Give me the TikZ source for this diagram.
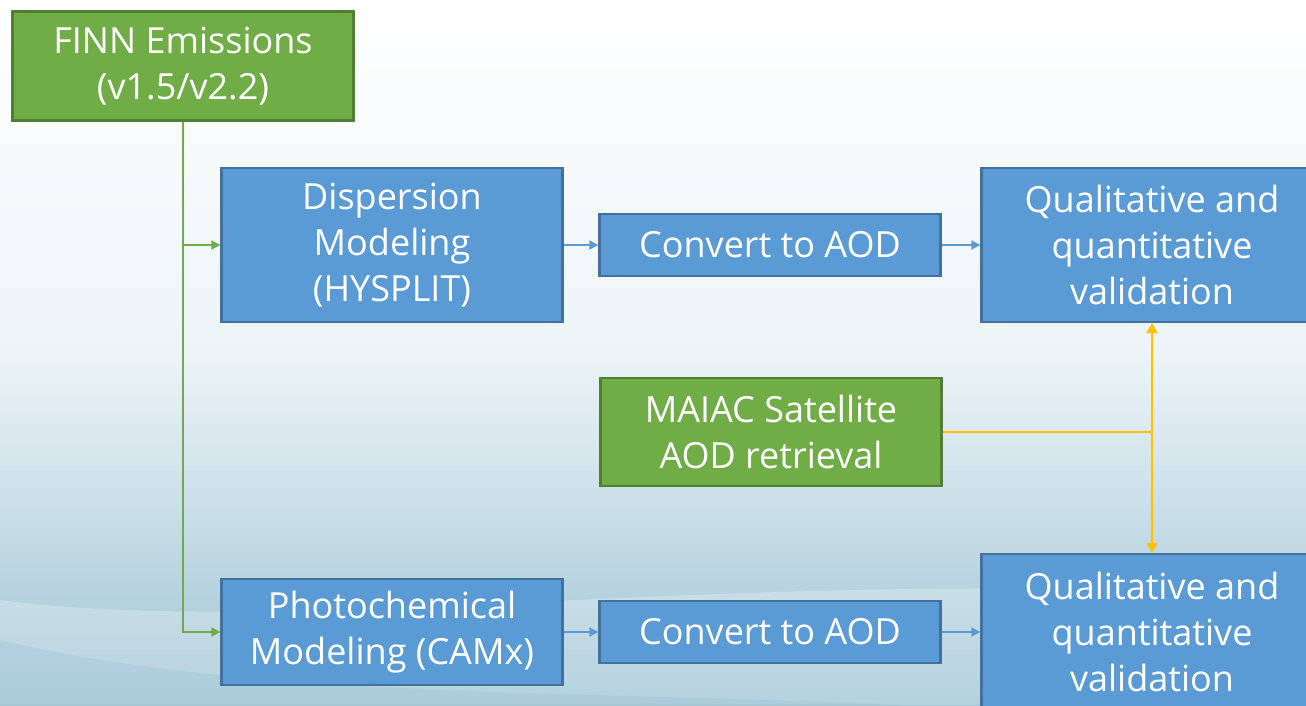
\documentclass[tikz,border=0pt]{standalone}
\usepackage{fontspec}
\setmainfont{Open Sans}
\usepackage{tikz}
\usetikzlibrary{arrows.meta,positioning}
\definecolor{BoxBlue}{HTML}{5B9BD5}
\definecolor{EdgeBlue}{HTML}{41719C}
\definecolor{BoxGreen}{HTML}{70AD47}
\definecolor{EdgeGreen}{HTML}{507E32}
\definecolor{Amber}{HTML}{FFC000}
\definecolor{SkyLow}{HTML}{9DC3D4}
\definecolor{SkyMid}{HTML}{EDF4F7}

\begin{document}
\begin{tikzpicture}[x=1pt,y=-1pt,
  stage/.style={rectangle,draw=EdgeBlue,fill=BoxBlue,line width=2.2pt,text=white,align=center,
    minimum width=341pt,font=\fontsize{36}{46}\selectfont},
  source/.style={stage,draw=EdgeGreen,fill=BoxGreen},
  feed/.style={draw=BoxGreen,line width=1.8pt,-{Triangle[length=9pt,width=9pt]}},
  flow/.style={draw=BoxBlue,line width=1.8pt,-{Triangle[length=9pt,width=9pt]}},
  sat/.style={draw=Amber,line width=2pt}
]
\clip (0,0) rectangle (1306,705);
% backdrop
\shade[top color=white,bottom color=SkyLow,middle color=SkyMid] (0,0) rectangle (1306,705);
\fill[white,opacity=0.25] (0,600) .. controls (300,640) and (800,560) .. (1306,600) -- (1306,705) -- (0,705) -- cycle;
\fill[SkyLow,opacity=0.35] (0,640) .. controls (250,700) and (600,690) .. (900,705) -- (0,705) -- cycle;

\node[source,minimum height=109pt] (finn) at (183,66) {FINN Emissions\\(v1.5/v2.2)};
\node[stage,minimum height=154pt] (disp) at (392,245) {Dispersion\\Modeling\\(HYSPLIT)};
\node[stage,minimum height=62pt] (aod1) at (770,245) {Convert to AOD};
\node[stage,minimum height=154pt] (val1) at (1152,245) {Qualitative and\\quantitative\\validation};
\node[source,minimum height=108pt] (maiac) at (771,432) {MAIAC Satellite\\AOD retrieval};
\node[stage,minimum height=106pt] (photo) at (392,632) {Photochemical\\Modeling (CAMx)};
\node[stage,minimum height=62pt] (aod2) at (770,632) {Convert to AOD};
\node[stage,minimum height=156pt] (val2) at (1152,632) {Qualitative and\\quantitative\\validation};

\coordinate (split) at (finn.south |- disp.west);
\coordinate (join) at (val1.south |- maiac.east);
\draw[feed] (finn.south) |- (photo.west);
\draw[feed] (split) -- (disp.west);
\foreach \a/\b in {disp/aod1,aod1/val1,photo/aod2,aod2/val2} {
  \draw[flow] (\a) -- (\b);
}
\draw[sat] (maiac.east) -- (join);
\draw[sat,{Triangle[length=10pt,width=11pt]}-{Triangle[length=10pt,width=11pt]}] (val1.south) -- (val2.north);
\end{tikzpicture}
\end{document}
